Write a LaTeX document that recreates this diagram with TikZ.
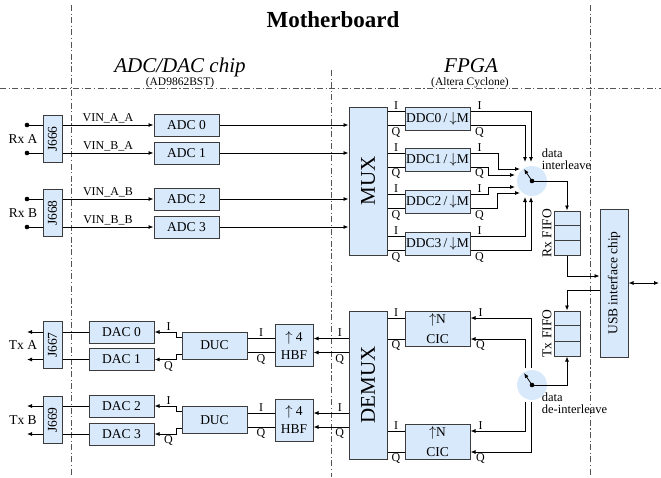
\documentclass[tikz,border=0pt]{standalone}
\usepackage{fontspec}
\setmainfont{Liberation Serif}
\usetikzlibrary{arrows.meta, positioning, calc}
\definecolor{boxblue}{HTML}{D8E9FB}
\definecolor{rimgray}{HTML}{3C3C3C}
\definecolor{zonegray}{HTML}{555555}

\begin{document}
\begin{tikzpicture}[x=1pt, y=-1pt, line width=0.8pt,
    >={Latex[length=5pt, width=4pt]},
    txt/.style={font=\fontsize{13.5}{15}\selectfont, inner sep=1.5pt},
    iq/.style={font=\fontsize{12}{13}\selectfont, inner sep=1.5pt},
    blockbox/.style={draw=rimgray, fill=boxblue, line width=1pt, inner sep=0pt,
      align=center, font=\fontsize{13.5}{15}\selectfont},
    unitbox/.style={blockbox, minimum width=65pt, minimum height=#1},
    jack/.style={blockbox, minimum width=19pt, minimum height=47pt},
    tall/.style={blockbox, minimum width=38pt, minimum height=148pt,
      font=\fontsize{21}{24}\selectfont},
    zone/.style={zonegray, line width=0.7pt,
      dash pattern=on 6pt off 2.5pt on 1.2pt off 2.5pt},
    disc/.style={circle, fill=boxblue, minimum size=30pt, inner sep=0pt},
  ]
  \useasboundingbox (0,0) rectangle (661,477);

  % headings
  \node[font=\bfseries\fontsize{23}{26}\selectfont, anchor=base] (board) at (333,27) {Motherboard};
  \node[font=\itshape\fontsize{21}{24}\selectfont, anchor=base] (adchead) at (180,72) {ADC/DAC chip};
  \node[font=\fontsize{11.5}{13}\selectfont, anchor=base] (adcsub) at (180,85) {(AD9862BST)};
  \node[font=\itshape\fontsize{21}{24}\selectfont, anchor=base] (fpgahead) at (471,72) {FPGA};
  \node[font=\fontsize{11.5}{13}\selectfont, anchor=base] (fpgasub) at (470,85) {(Altera Cyclone)};

  % zone borders
  \draw[zone] (71,5) -- (71,477);
  \draw[zone] (331,70) -- (331,477);
  \draw[zone] (590,5) -- (590,477);
  \draw[zone] (0,88) -- (661,88);

  % big blocks
  \node[tall] (mux) at (368,181) {\rotatebox{90}{MUX}};
  \node[tall] (demux) at (368,385) {\rotatebox{90}{DEMUX}};
  \node[blockbox, minimum width=28pt, minimum height=148pt] (usb) at (614,283)
    {\rotatebox{90}{USB interface chip}};
  \node[disc] (ilv) at (532,181) {};
  \node[disc] (dil) at (532,385) {};

  % connectors
  \foreach \j/\y/\rxtx in {666/139/Rx A, 668/213/Rx B, 667/345/Tx A, 669/420/Tx B}{
    \node[jack] (j\j) at (52.5,\y) {\rotatebox{90}{J\j}};
    \node[txt] at (23,\y) {\rxtx};
  }

  % receive path
  \foreach \n/\y/\j/\vin in {0/125/666/VIN\_A\_A, 1/153/666/VIN\_B\_A,
                             2/199/668/VIN\_A\_B, 3/227/668/VIN\_B\_B}{
    \node[unitbox=22pt] (adc\n) at (186.5,\y) {ADC \n};
    \coordinate (in\n) at (27,\y);
    \fill (in\n) circle (2.3pt);
    \draw (in\n) -- (in\n -| j\j.west);
    \draw[->] (in\n -| j\j.east) -- node[txt, above, font=\fontsize{12}{13}\selectfont] {\vin} (adc\n.west);
    \draw[->] (adc\n.east) -- (adc\n.east -| mux.west);
  }
  \foreach \n/\y in {0/118.5, 1/160, 2/201.5, 3/243.5}{
    \node[unitbox=23pt] (ddc\n) at (437.5,\y) {DDC\n\,/\,$\downarrow$M};
    \coordinate (ddcI\n) at ($(ddc\n.west)+(0,-7)$);
    \coordinate (ddcQ\n) at ($(ddc\n.west)+(0,7)$);
    \draw (ddcI\n -| mux.east) -- node[iq, above] {I} (ddcI\n);
    \draw (ddcQ\n -| mux.east) -- node[iq, below] {Q} (ddcQ\n);
    \node[iq, above] at ($(ddc\n.east)+(9,-7)$) {I};
    \node[iq, below] at ($(ddc\n.east)+(9,7)$) {Q};
  }
  \draw[->] ($(ddc0.east)+(0,-7)$) -| ($(ilv.center)+(-1,-19)$);
  \draw[->] ($(ddc0.east)+(0,7)$) -| ($(ilv.center)+(-7,-19)$);
  \draw[->] ($(ddc1.east)+(0,-7)$) -| ($(ilv.center)+(-34,-12)$) -- ($(ilv.center)+(-12,-12)$);
  \draw[->] ($(ddc1.east)+(0,7)$) -| ($(ilv.center)+(-44,-6)$) -- ($(ilv.center)+(-17,-6)$);
  \draw[->] ($(ddc2.east)+(0,-7)$) -| ($(ilv.center)+(-44,6)$) -- ($(ilv.center)+(-17,6)$);
  \draw[->] ($(ddc2.east)+(0,7)$) -| ($(ilv.center)+(-35,12)$) -- ($(ilv.center)+(-12,12)$);
  \draw[->] ($(ddc3.east)+(0,-7)$) -| ($(ilv.center)+(-7,16)$);
  \draw[->] ($(ddc3.east)+(0,7)$) -| ($(ilv.center)+(-1,16)$);
  \node[txt, align=left, anchor=north west, font=\fontsize{12.5}{11.5}\selectfont] at (540,147) {data\\interleave};

  % transmit path
  \foreach \n/\y/\j in {0/332/667, 1/359.5/667, 2/406/669, 3/434/669}{
    \node[unitbox=22pt] (dac\n) at (121.5,\y) {DAC \n};
    \coordinate (out\n) at (27,\y);
    \draw (dac\n.west) -- (dac\n.west -| j\j.east);
    \draw[->] (dac\n.west -| j\j.west) -- (out\n);
  }
  \foreach \n/\y/\da/\db in {A/345.5/0/1, B/420/2/3}{
    \node[blockbox, minimum width=38pt, minimum height=42pt,
      font=\fontsize{13.5}{18}\selectfont] (hbf\n) at (294,\y) {$\uparrow$ 4\\HBF};
    \node[unitbox=27pt] (duc\n) at (214.5,\y) {DUC};
    \coordinate (hbfI\n) at ($(hbf\n.east)+(0,-7)$);
    \coordinate (hbfQ\n) at ($(hbf\n.east)+(0,7)$);
    \draw[->] (hbfI\n -| demux.west) -- node[iq, above, pos=0.25] {I} (hbfI\n);
    \draw[->] (hbfQ\n -| demux.west) -- node[iq, below, pos=0.25] {Q} (hbfQ\n);
    \draw ($(hbf\n.west)+(0,-7)$) -- node[iq, above] {I} ($(duc\n.east)+(0,-7)$);
    \draw ($(hbf\n.west)+(0,7)$) -- node[iq, below] {Q} ($(duc\n.east)+(0,7)$);
    \draw[->] ($(duc\n.west)+(0,-8.5)$) -- ++(-5,0) |- (dac\da.east);
    \draw[->] ($(duc\n.west)+(0,8.5)$) -- ++(-5,0) |- (dac\db.east);
    \node[iq, above] at ($(dac\da.east)+(14,0)$) {I};
    \node[iq, below] at ($(dac\db.east)+(14,0)$) {Q};
  }
  \foreach \n/\y in {A/328.5, B/441.5}{
    \node[unitbox=35pt, font=\fontsize{13.5}{20}\selectfont] (cic\n) at (437.5,\y) {$\uparrow$N\\CIC};
    \coordinate (cicI\n) at ($(cic\n.west)+(0,-10.5)$);
    \coordinate (cicQ\n) at ($(cic\n.west)+(0,10.5)$);
    \draw (cicI\n -| demux.east) -- node[iq, above] {I} (cicI\n);
    \draw (cicQ\n -| demux.east) -- node[iq, below] {Q} (cicQ\n);
    \node[iq, above] at ($(cic\n.east)+(10,-10.5)$) {I};
    \node[iq, below] at ($(cic\n.east)+(10,10.5)$) {Q};
  }
  \draw[->] ($(dil.center)+(-1,-17)$) |- ($(cicA.east)+(0,-10.5)$);
  \draw[->] ($(dil.center)+(-7,-17)$) |- ($(cicA.east)+(0,10.5)$);
  \draw[->] ($(dil.center)+(-7,17)$) |- ($(cicB.east)+(0,-10.5)$);
  \draw[->] ($(dil.center)+(-1,17)$) |- ($(cicB.east)+(0,10.5)$);
  \node[txt, align=left, anchor=north west, font=\fontsize{12.5}{11.5}\selectfont] at (540,391) {data\\de-interleave};

  % switches
  \foreach \s in {ilv, dil}{
    \fill (\s.center) circle (2.3pt);
    \draw[->] (\s.center) -- ++(-8,-12);
  }

  % fifos and usb
  \node[blockbox, minimum width=26pt, minimum height=44pt] (rxfifo) at (567,233) {};
  \node[blockbox, minimum width=26pt, minimum height=45pt] (txfifo) at (567,333.5) {};
  \foreach \f/\fifolabel in {rxfifo/Rx FIFO, txfifo/Tx FIFO}{
    \foreach \k in {1,2}
      \draw[rimgray, line width=1pt] ($(\f.north west)!\k/3!(\f.south west)$) -- ($(\f.north east)!\k/3!(\f.south east)$);
    \node[txt, anchor=east] at (\f.west) {\rotatebox{90}{\fifolabel}};
  }
  \draw[->] (ilv.center) -| (rxfifo.north);
  \draw[->] (rxfifo.south) |- ($(usb.west)+(0,-7)$);
  \draw[->] ($(usb.west)+(0,7)$) -| (txfifo.north);
  \draw[->] (dil.center) -| (txfifo.south);
  \coordinate (host) at (659,283);
  \draw[<->] (usb.east) -- (host);
\end{tikzpicture}
\end{document}
